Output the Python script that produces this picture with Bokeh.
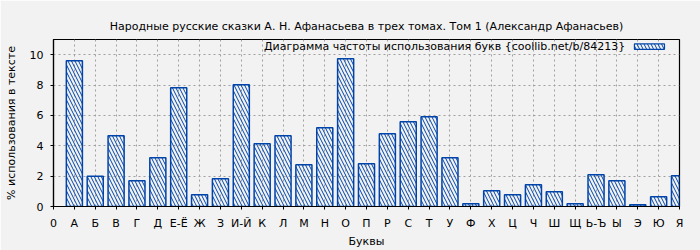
from bokeh.plotting import figure
from bokeh.models import FixedTicker, Range1d, Label, BoxAnnotation, ColumnDataSource
from bokeh.embed import file_html
from bokeh.resources import INLINE

chart_title = "Народные русские сказки А. Н. Афанасьева в трех томах. Том 1 (Александр Афанасьев)"
legend_text = "Диаграмма частоты использования букв {coollib.net/b/84213}"
x_axis_label = "Буквы"
y_axis_label = "% использования в тексте"

letters = ["А", "Б", "В", "Г", "Д", "Е-Ё", "Ж", "З", "И-Й", "К", "Л", "М", "Н", "О", "П",
           "Р", "С", "Т", "У", "Ф", "Х", "Ц", "Ч", "Ш", "Щ", "Ь-Ъ", "Ы", "Э", "Ю", "Я"]
values = [9.6, 2.0, 4.66, 1.7, 3.21, 7.82, 0.77, 1.82, 8.02, 4.13, 4.66, 2.75, 5.19, 9.74, 2.81,
          4.79, 5.58, 5.91, 3.21, 0.18, 1.03, 0.77, 1.43, 0.97, 0.18, 2.09, 1.69, 0.11, 0.64, 2.02]
y_ticks = [0, 2, 4, 6, 8, 10]

positions = list(range(1, len(letters) + 1))
BLUE = "#0044aa"
BG = "#f2f2f2"
FONT = "DejaVu Sans"

src = ColumnDataSource(dict(x=positions, top=values))

p = figure(width=700, height=250, output_backend="svg", toolbar_location=None,
           x_range=Range1d(0, len(letters)), y_range=Range1d(0, 11),
           min_border_left=53, min_border_right=21, min_border_top=39, min_border_bottom=44,
           title=chart_title)

p.background_fill_color = BG
p.border_fill_color = BG
p.outline_line_color = "black"
p.outline_line_width = 1.2

p.title.align = "center"
p.title.text_font = FONT
p.title.text_font_size = "11px"
p.title.text_font_style = "normal"
p.title.text_color = "black"
p.title.standoff = 14

p.vbar(x="x", top="top", width=0.77, source=src, fill_color=None,
       line_color=BLUE, line_width=1.5,
       hatch_pattern="\\", hatch_color=BLUE, hatch_scale=7, hatch_weight=1)

p.xaxis.ticker = FixedTicker(ticks=[0] + positions)
p.xaxis.major_label_overrides = {0: "0", **{i: l for i, l in zip(positions, letters)}}
p.yaxis.ticker = FixedTicker(ticks=y_ticks)
p.xaxis.minor_tick_line_color = None
p.yaxis.minor_tick_line_color = None

for ax in (p.xaxis[0], p.yaxis[0]):
    ax.axis_line_color = "black"
    ax.axis_line_width = 1.2
    ax.major_tick_line_color = "black"
    ax.major_tick_out = 3
    ax.major_tick_in = 0
    ax.major_label_standoff = 7
    ax.major_label_text_font = FONT
    ax.major_label_text_font_size = "11px"
    ax.major_label_text_color = "black"
    ax.axis_label_text_font = FONT
    ax.axis_label_text_font_size = "11px"
    ax.axis_label_text_font_style = "normal"
    ax.axis_label_text_color = "black"

p.xaxis.axis_label = x_axis_label
p.yaxis.axis_label = y_axis_label
p.xaxis.axis_label_standoff = 2
p.yaxis.axis_label_standoff = 9

p.grid.grid_line_color = "#a0a0a0"
p.grid.grid_line_dash = "2 3"
p.grid.grid_line_width = 1

# legend (text then hatched swatch, as in the reference)
p.add_layout(Label(x=27.4, y=10.55, text=legend_text, text_align="right",
                   text_baseline="middle", text_font=FONT, text_font_size="11px",
                   text_color="black"))
p.add_layout(BoxAnnotation(left=27.84, right=29.28, bottom=10.35, top=10.71,
                           fill_color=None, fill_alpha=0, line_color=BLUE, line_width=1.2,
                           hatch_pattern="\\", hatch_color=BLUE, hatch_scale=7,
                           hatch_weight=1, line_alpha=1))

open("out.html", "w").write(file_html(p, INLINE))
